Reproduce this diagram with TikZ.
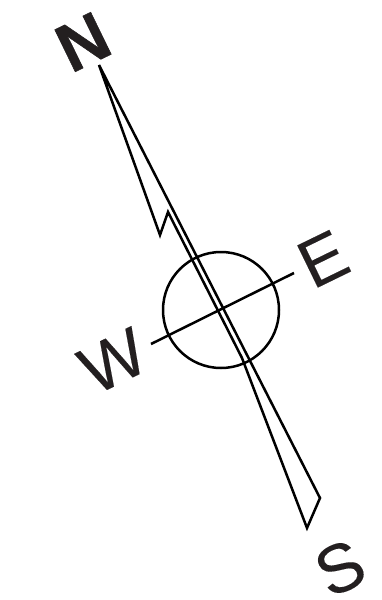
\documentclass[tikz,border=0pt]{standalone}
\usepackage{fontspec}
\setmainfont{Liberation Sans}
\newfontfamily\heavyletter[FakeBold=0.8]{Liberation Sans Bold}
\newfontfamily\plainletter[FakeBold=0.15]{Liberation Sans}
\definecolor{ink}{HTML}{231F20}
\tikzset{
  x=1pt,y=-1pt,
  line/.style={draw=black,line width=2.5pt,line join=miter,miter limit=6},
  letter/.style={text=ink,inner sep=0pt,rotate=26,font=\plainletter\fontsize{68}{68}\selectfont},
}
\begin{document}
\begin{tikzpicture}
\useasboundingbox (0,0) rectangle (381,600);
\coordinate (tipN) at (99,65);
\coordinate (notchA) at (160,235);
\coordinate (notchB) at (168,212);
\coordinate (kink) at (242,358);
\coordinate (tipS) at (307,528);
\coordinate (corner) at (320,498);
\coordinate (west) at (151,344);
\coordinate (east) at (294,273);
\node[line,circle,minimum size=116pt,inner sep=0pt] (dial) at (221,310) {};
\draw[line] (tipN) -- (notchA) -- (notchB) -- (kink) -- (tipS) -- (corner) -- cycle;
\draw[line] (west) -- (east);
\node[letter,font=\heavyletter\fontsize{68}{68}\selectfont] (n) at (83,42) {N};
\node[letter] (e) at (323,259) {E};
\node[letter] (w) at (113,361) {W};
\node[letter] (s) at (340,568) {S};
\end{tikzpicture}
\end{document}
